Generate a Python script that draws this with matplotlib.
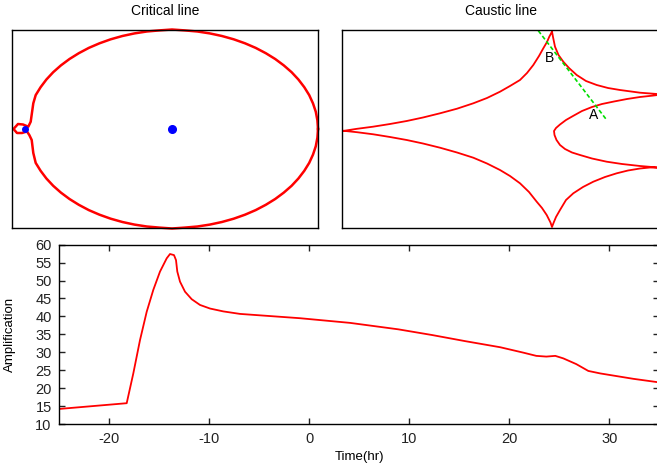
from matplotlib import pyplot as plt

plt.rcParams['font.family'] = ['Liberation Sans', 'DejaVu Sans']
plt.rcParams['font.size'] = 9.5
plt.rcParams['axes.unicode_minus'] = False

# light curve
time_hr = [-25.0, -18.26, -17.6, -16.93, -16.26, -15.6, -14.93, -14.26, -13.93, -13.53,
           -13.33, -13.2, -12.93, -12.43, -11.76, -10.93, -9.93, -8.6, -6.93, -0.93,
           4.07, 8.9, 12.3, 15.6, 19.1, 21.4, 22.7, 23.7, 24.6, 25.4,
           26.7, 27.9, 29.1, 32.4, 35.0]
amplification = [14.2, 15.8, 24.1, 33.4, 41.3, 47.4, 52.5, 56.2, 57.4, 57.1,
                 55.7, 52.5, 49.7, 46.9, 44.8, 43.2, 42.2, 41.4, 40.7, 39.5,
                 38.2, 36.4, 34.8, 33.1, 31.4, 29.9, 29.0, 28.8, 29.0, 28.3,
                 26.7, 24.8, 24.1, 22.6, 21.6]

# critical line (lens plane)
crit_x = [1.46, 1.454, 1.438, 1.410, 1.372, 1.323, 1.264, 1.196, 1.118, 1.032,
          0.938, 0.837, 0.730, 0.617, 0.499, 0.378, 0.254, 0.127, 0.0,
          -0.126, -0.252, -0.375, -0.496, -0.613, -0.725, -0.832, -0.932, -1.025, -1.111,
          -1.188, -1.256, -1.314, -1.363,
          -1.387, -1.413, -1.437, -1.49, -1.54, -1.585, -1.55, -1.50, -1.45, -1.427,
          -1.403, -1.387,
          -1.363, -1.314, -1.256, -1.188, -1.111, -1.025, -0.932, -0.832, -0.725, -0.613,
          -0.496, -0.375, -0.252, -0.126, 0.0,
          0.127, 0.254, 0.378, 0.499, 0.617, 0.730, 0.837, 0.938, 1.032, 1.118,
          1.196, 1.264, 1.323, 1.372, 1.410, 1.438, 1.454, 1.46]
crit_y = [0.0, 0.086, 0.172, 0.256, 0.339, 0.418, 0.495, 0.568, 0.636, 0.700,
          0.758, 0.811, 0.857, 0.897, 0.930, 0.956, 0.975, 0.986, 0.995,
          0.986, 0.975, 0.956, 0.930, 0.897, 0.857, 0.811, 0.758, 0.700, 0.636,
          0.568, 0.495, 0.418, 0.339,
          0.257, 0.073, 0.023, 0.045, 0.05, 0.0, -0.04, -0.04, -0.025, -0.06,
          -0.11, -0.24,
          -0.339, -0.418, -0.495, -0.568, -0.636, -0.700, -0.758, -0.811, -0.857, -0.897,
          -0.930, -0.956, -0.975, -0.986, -0.995,
          -0.986, -0.975, -0.956, -0.930, -0.897, -0.857, -0.811, -0.758, -0.700, -0.636,
          -0.568, -0.495, -0.418, -0.339, -0.256, -0.172, -0.086, 0.0]
lens_x = [0.0, -1.47]
lens_y = [0.0, 0.0]

# caustic line (source plane)
caus_x = [-2.093, -1.95, -1.79, -1.62, -1.453, -1.29, -1.12, -0.95, -0.787, -0.65,
          -0.52, -0.42, -0.32, -0.25, -0.187, -0.13, -0.087, -0.05, -0.027, -0.01, 0.0,
          0.01, 0.03, 0.065, 0.113, 0.17, 0.247, 0.34, 0.447, 0.56, 0.68, 0.88, 1.05, 1.10,
          1.00, 0.88, 0.75, 0.62, 0.50, 0.40, 0.30, 0.21, 0.14, 0.08, 0.04, 0.02,
          0.025, 0.045, 0.08, 0.13, 0.20, 0.28, 0.40, 0.547, 0.70, 0.88, 1.00, 1.10,
          0.98, 0.88, 0.76, 0.647, 0.53, 0.413, 0.31, 0.213, 0.14, 0.08, 0.04, 0.015, 0.0,
          -0.015, -0.053, -0.10, -0.153, -0.23, -0.32, -0.42, -0.52, -0.65, -0.787,
          -0.95, -1.12, -1.29, -1.453, -1.62, -1.787, -1.95, -2.093]
caus_y = [-0.01, 0.012, 0.033, 0.06, 0.09, 0.125, 0.167, 0.213, 0.267, 0.32,
          0.383, 0.44, 0.50, 0.57, 0.65, 0.74, 0.817, 0.88, 0.933, 0.965, 0.985,
          0.93, 0.833, 0.75, 0.683, 0.62, 0.55, 0.49, 0.45, 0.42, 0.40, 0.373, 0.36, 0.355,
          0.343, 0.33, 0.31, 0.285, 0.26, 0.23, 0.19, 0.14, 0.10, 0.055, 0.02, -0.01,
          -0.05, -0.10, -0.15, -0.19, -0.225, -0.25, -0.285, -0.317, -0.34, -0.36, -0.37, -0.378,
          -0.375, -0.385, -0.405, -0.433, -0.47, -0.517, -0.57, -0.633, -0.70, -0.80, -0.87, -0.93, -0.97,
          -0.925, -0.85, -0.78, -0.717, -0.62, -0.533, -0.46, -0.40, -0.335, -0.277,
          -0.225, -0.177, -0.135, -0.10, -0.07, -0.043, -0.022, -0.007]
track_x = [-0.137, 0.547]
track_y = [0.993, 0.10]

fig = plt.figure(figsize=(6.57, 4.70), dpi=100)

ax1 = fig.add_axes([12 / 657, 242 / 470, 306 / 657, 198 / 470])
ax1.plot(crit_x, crit_y, color='red', lw=1.8, clip_on=False)
ax1.plot(lens_x[:1], lens_y[:1], 'o', color='blue', ms=5.5)
ax1.plot(lens_x[1:], lens_y[1:], 'o', color='blue', ms=4)
ax1.set_xlim(-1.60, 1.46)
ax1.set_ylim(-0.99, 0.99)
ax1.set_xticks([])
ax1.set_yticks([])
ax1.set_title('Critical line', pad=10.5, fontsize=10)

ax2 = fig.add_axes([342 / 657, 242 / 470, 318 / 657, 198 / 470])
ax2.plot(caus_x, caus_y, color='red', lw=1.3)
ax2.plot(track_x, track_y, color='#00dd00', lw=1.2, dashes=(2.5, 1.5))
ax2.text(-0.02, 0.717, 'B', ha='center', va='center', fontsize=10)
ax2.text(0.413, 0.15, 'A', ha='center', va='center', fontsize=10)
ax2.set_xlim(-2.10, 1.08)
ax2.set_ylim(-0.98, 1.00)
ax2.set_xticks([])
ax2.set_yticks([])
ax2.set_title('Caustic line', pad=10.5, fontsize=10)

ax3 = fig.add_axes([59.3 / 657, 46 / 470, 600 / 657, 179.3 / 470])
ax3.plot(time_hr, amplification, color='red', lw=1.3)
ax3.set_xlim(-25, 35)
ax3.set_ylim(10, 60)
ax3.set_xticks([-20, -10, 0, 10, 20, 30])
ax3.set_yticks(range(10, 61, 5))
ax3.tick_params(direction='in', length=4.5, width=1, top=True, right=True,
                colors='#222222', labelcolor='#222222', labelsize=10.5)
ax3.tick_params(axis='y', pad=5.5)
ax3.tick_params(axis='x', pad=6)
ax3.set_xlabel('Time(hr)')
ax3.set_ylabel('Amplification')
ax3.xaxis.set_label_coords(0.5, -0.15)
ax3.yaxis.set_label_coords(-0.072, 0.5)

for ax in (ax1, ax2, ax3):
    for s in ax.spines.values():
        s.set_linewidth(1)

fig.savefig('out.png', dpi=100)
